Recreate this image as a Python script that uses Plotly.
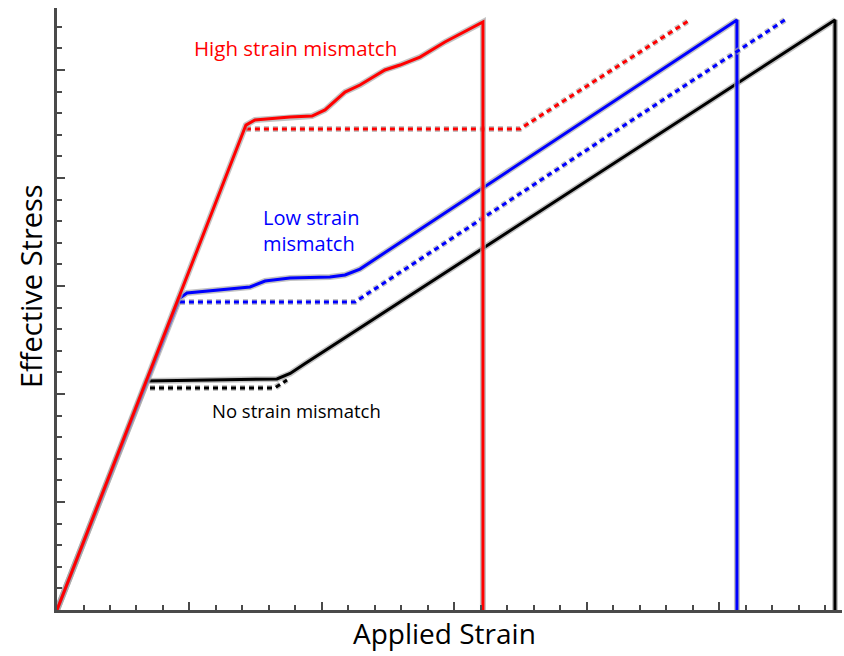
import plotly.graph_objects as go

# Stress-strain responses (x in strain units, y in stress units)
red_solid_x = [0.0, 1.426, 1.494, 1.758, 1.925, 2.023, 2.174, 2.287, 2.475, 2.589, 2.74, 2.928, 3.215, 3.215]
red_solid_y = [0.0, 4.49, 4.537, 4.565, 4.574, 4.63, 4.796, 4.861, 5.0, 5.046, 5.12, 5.259, 5.444, 0.0]
red_dash_x = [1.426, 3.494, 4.777]
red_dash_y = [4.454, 4.454, 5.463]

blue_solid_x = [0.0, 0.928, 0.981, 1.23, 1.457, 1.57, 1.758, 2.06, 2.174, 2.287, 5.132, 5.132]
blue_solid_y = [0.0, 2.889, 2.935, 2.963, 2.991, 3.046, 3.074, 3.083, 3.102, 3.157, 5.463, 0.0]
blue_dash_x = [0.928, 2.249, 5.494]
blue_dash_y = [2.852, 2.852, 5.463]

black_solid_x = [0.0, 0.679, 1.66, 1.76, 1.87, 5.872, 5.872]
black_solid_y = [0.0, 2.12, 2.139, 2.19, 2.28, 5.463, 0.0]
black_dash_x = [0.702, 1.645, 1.736]
black_dash_y = [2.056, 2.056, 2.13]

major_ticks_y = [1, 2, 3, 4, 5]

HALO = "rgba(170,170,170,0.7)"
fig = go.Figure()


def add_line(x, y, color, dash=None):
    d = dash if dash else "solid"
    fig.add_trace(go.Scatter(x=x, y=y, mode="lines",
                             line=dict(color=HALO, width=6, dash=d),
                             hoverinfo="skip", showlegend=False))
    fig.add_trace(go.Scatter(x=x, y=y, mode="lines",
                             line=dict(color=color, width=3, dash=d),
                             showlegend=False))


DASH = "5px,4px"
add_line(black_solid_x, black_solid_y, "#000000")
add_line(black_dash_x, black_dash_y, "#000000", DASH)
add_line(blue_solid_x, blue_solid_y, "#0000ff")
add_line(blue_dash_x, blue_dash_y, "#0000ff", DASH)
add_line(red_dash_x, red_dash_y, "#ff0000", DASH)
add_line(red_solid_x, red_solid_y, "#ff0000")

# faint marks beside the major y ticks
fig.add_trace(go.Scatter(x=[-0.055] * len(major_ticks_y), y=major_ticks_y, mode="markers",
                         marker=dict(symbol="line-ns", size=10,
                                     line=dict(color="#9fd3ef", width=1.5)),
                         cliponaxis=False, hoverinfo="skip", showlegend=False))

FONT = "Open Sans"
fig.add_annotation(x=1.80, y=5.2, xref="x", yref="y", text="High strain mismatch",
                   showarrow=False, font=dict(family=FONT, size=20.5, color="#ff0000"))
fig.add_annotation(x=1.54, y=3.51, xref="x", yref="y", text="Low strain<br>mismatch",
                   showarrow=False, xanchor="left", align="left",
                   font=dict(family=FONT, size=20, color="#0000ff"))
fig.add_annotation(x=1.81, y=1.85, xref="x", yref="y", text="No strain mismatch",
                   showarrow=False, font=dict(family=FONT, size=18.5, color="#000000"))

# axis titles
fig.add_annotation(x=0.494, y=-0.038, xref="paper", yref="paper", text="Applied Strain",
                   showarrow=False, xanchor="center", yanchor="middle",
                   font=dict(family=FONT, size=28, color="#000000"))
fig.add_annotation(x=-0.0344, y=0.538, xref="paper", yref="paper", text="Effective Stress",
                   showarrow=False, textangle=-90, xanchor="center", yanchor="middle",
                   font=dict(family=FONT, size=29, color="#000000"))

axis_common = dict(
    showgrid=False, zeroline=False, showline=True, linecolor="#4a4a4a", linewidth=3,
    ticks="inside", ticklen=8, tickwidth=2, tickcolor="#4a4a4a", showticklabels=False,
    dtick=1, tick0=0,
    minor=dict(ticks="inside", ticklen=5, tickwidth=2, tickcolor="#4a4a4a", dtick=0.2),
)

fig.update_layout(
    width=844, height=656,
    margin=dict(l=57, r=2, t=8, b=46),
    paper_bgcolor="white", plot_bgcolor="white",
    xaxis=dict(range=[0, 5.925], **axis_common),
    yaxis=dict(range=[0, 5.574], **axis_common),
)

fig.write_html("out.html")
